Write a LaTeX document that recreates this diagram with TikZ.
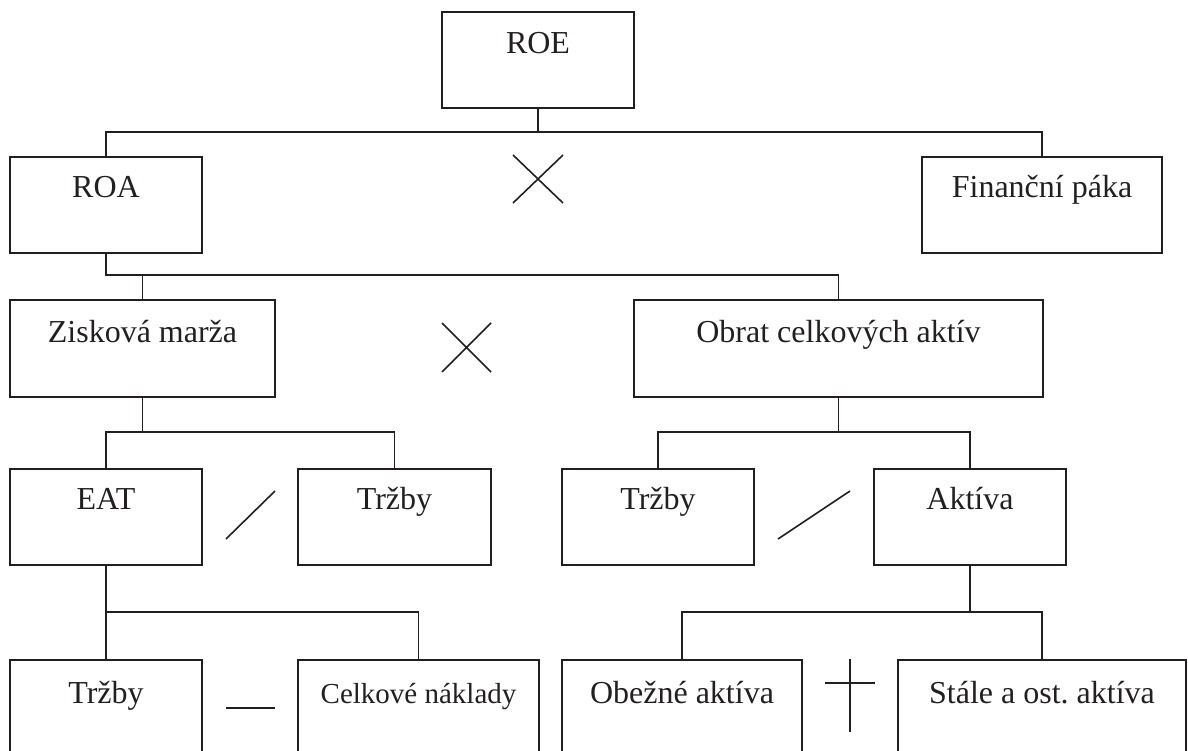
\documentclass[tikz,border=0pt]{standalone}
\usepackage{fontspec}
\setmainfont{Liberation Serif}
\frenchspacing
\definecolor{ink}{HTML}{231F20}
\begin{document}
\begin{tikzpicture}[x=1pt,y=-1pt,
  every node/.style={text=ink},
  box/.style={draw=ink, line width=1.6pt, rectangle, anchor=north, inner xsep=0pt, inner ysep=0pt, align=center, font=\fontsize{32}{38}\selectfont},
  conn/.style={draw=ink, line width=1.6pt},
  op/.style={draw=ink, line width=1.6pt}
]
\useasboundingbox (0,0) rectangle (1188,751);
\clip (0,0) rectangle (1188,751);

% level 0
\node[box, minimum width=192pt, text height=42pt, text depth=54pt] (roe) at (538,11) {ROE};
% level 1
\node[box, minimum width=192pt, text height=41pt, text depth=55pt] (roa) at (106,156) {ROA};
\node[box, minimum width=240pt, text height=41pt, text depth=55pt] (fin) at (1042,156) {Finanční páka};
% level 2
\node[box, minimum width=265pt, text height=43pt, text depth=54pt] (zis) at (142.5,299) {Zisková marža};
\node[box, minimum width=409pt, text height=43pt, text depth=54pt] (obr) at (838.5,299) {Obrat celkových aktív};
% level 3
\node[box, minimum width=192pt, text height=41pt, text depth=55pt] (eat) at (106,468) {EAT};
\node[box, minimum width=193pt, text height=41pt, text depth=55pt] (tr1) at (394.5,468) {Tržby};
\node[box, minimum width=192pt, text height=41pt, text depth=55pt] (tr2) at (658,468) {Tržby};
\node[box, minimum width=192pt, text height=41pt, text depth=55pt] (akt) at (970,468) {Aktíva};
% level 4
\node[box, minimum width=192pt, text height=44pt, text depth=100pt] (tr3) at (106,659) {Tržby};
\node[box, minimum width=241pt, text height=44pt, text depth=100pt, font=\fontsize{29}{35}\selectfont] (cel) at (418.5,659) {Celkové náklady};
\node[box, minimum width=240pt, text height=44pt, text depth=100pt] (obe) at (682,659) {Obežné aktíva};
\node[box, minimum width=288pt, text height=44pt, text depth=100pt] (sta) at (1042,659) {Stále a ost. aktíva};

% bus coordinates
\coordinate (b1) at (538,132);
\coordinate (b2) at (142.5,275);
\coordinate (b3) at (142.5,432);
\coordinate (b4) at (838.5,432);
\coordinate (b5) at (106,612);
\coordinate (b6) at (970,612);

% connectors
\draw[conn] (roe.south) -- (b1);
\draw[conn] (roa.north) |- (b1) -| (fin.north);
\draw[conn] (roa.south) |- (b2) -| (obr.north);
\draw[conn] (b2) -- (zis.north);
\draw[conn] (zis.south) -- (b3);
\draw[conn] (eat.north) |- (b3) -| (tr1.north);
\draw[conn] (obr.south) -- (b4);
\draw[conn] (tr2.north) |- (b4) -| (akt.north);
\draw[conn] (eat.south) -- (tr3.north);
\draw[conn] (b5) -| (cel.north);
\draw[conn] (akt.south) -- (b6);
\draw[conn] (obe.north) |- (b6) -| (sta.north);

% operators
\draw[op] (513,155) -- (563,203) (563,155) -- (513,203);
\draw[op] (442,323) -- (491,372) (491,323) -- (442,372);
\draw[op] (226,539) -- (275,491);
\draw[op] (778,539) -- (850,491);
\draw[op] (226,708) -- (275,708);
\draw[op] (850,659) -- (850,732) (825,683) -- (875,683);
\end{tikzpicture}
\end{document}
